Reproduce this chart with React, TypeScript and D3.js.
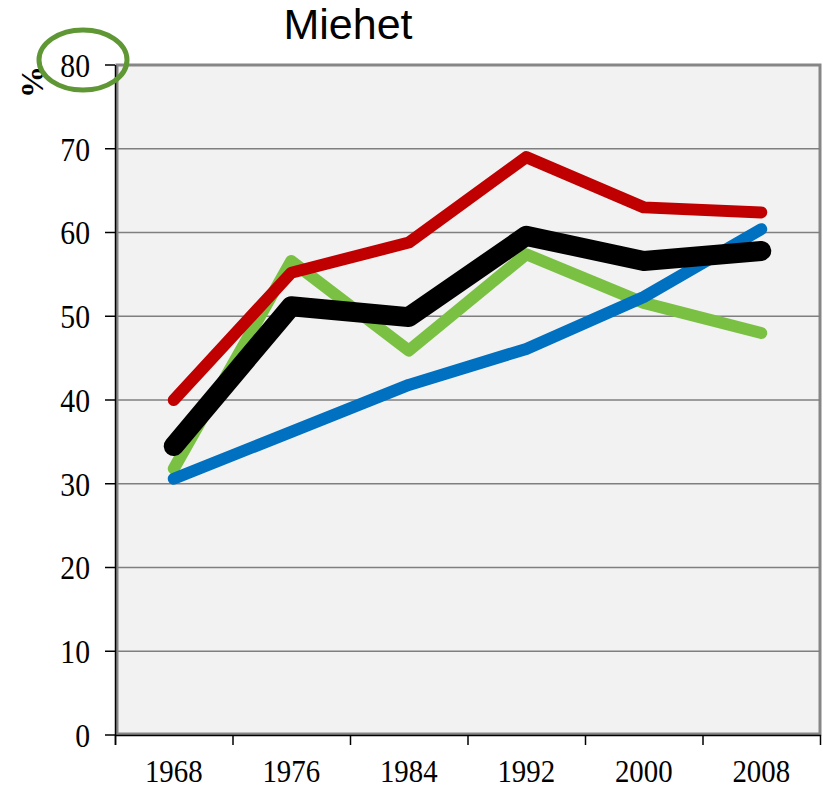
import React from "react";
import * as d3 from "d3";

const years = ["1968", "1976", "1984", "1992", "2000", "2008"];
const redValues = [40.0, 55.2, 58.8, 69.0, 63.0, 62.4];
const greenValues = [31.8, 56.6, 45.9, 57.4, 51.6, 48.0];
const blueValues = [30.6, 36.2, 41.8, 46.1, 52.3, 60.4];
const blackValues = [34.5, 51.2, 49.9, 59.6, 56.6, 57.8];
const yTicks = [0, 10, 20, 30, 40, 50, 60, 70, 80];

const series = [
  { name: "green", values: greenValues, color: "#7ac143", width: 12 },
  { name: "red", values: redValues, color: "#c00000", width: 12 },
  { name: "blue", values: blueValues, color: "#0070c0", width: 12 },
  { name: "black", values: blackValues, color: "#000000", width: 20 },
];

const SERIF = "'Liberation Serif', 'Times New Roman', serif";
const SANS = "'Liberation Sans', Arial, sans-serif";

export default function App() {
  const W = 823;
  const H = 789;
  const left = 115;
  const right = 820;
  const top = 65;
  const bottom = 735;

  const x = d3.scaleBand<string>().domain(years).range([left, right]).padding(0);
  const y = d3.scaleLinear().domain([0, 80]).range([bottom, top]);
  const line = d3
    .line<number>()
    .x((_, i) => (x(years[i]) as number) + x.bandwidth() / 2)
    .y((d) => y(d));

  const boundaries = years.map((yr) => x(yr) as number).concat([right]);

  return (
    <svg
      width={W}
      height={H}
      style={{ position: "absolute", left: 0, top: 0 }}
    >
      <rect x={0} y={0} width={W} height={H} fill="#ffffff" />
      <text
        x={348}
        y={39}
        textAnchor="middle"
        fontFamily={SANS}
        fontSize={43}
        fill="#000"
      >
        Miehet
      </text>
      {/* plot area */}
      <rect
        x={left + 2}
        y={top}
        width={right - left - 2}
        height={bottom - top - 1}
        fill="#f2f2f2"
        stroke="#868686"
        strokeWidth={3}
      />
      {/* gridlines */}
      {yTicks
        .filter((t) => t !== 0 && t !== 80)
        .map((t) => (
          <line
            key={"g" + t}
            x1={left}
            x2={right}
            y1={y(t)}
            y2={y(t)}
            stroke="#7f7f7f"
            strokeWidth={1.5}
          />
        ))}
      {/* y axis */}
      <line x1={left + 0.5} x2={left + 0.5} y1={top} y2={bottom + 10} stroke="#000" strokeWidth={1.5} />
      {yTicks.map((t) => (
        <g key={"yt" + t}>
          <line x1={left - 10} x2={left} y1={y(t)} y2={y(t)} stroke="#000" strokeWidth={1.5} />
          <text
            transform={`translate(90,${y(t)}) scale(0.9,1)`}
            dy="0.36em"
            textAnchor="end"
            fontFamily={SERIF}
            fontSize={33}
            fill="#000"
          >
            {t}
          </text>
        </g>
      ))}
      {/* x axis */}
      <line x1={left} x2={right + 1} y1={bottom + 0.5} y2={bottom + 0.5} stroke="#000" strokeWidth={1.5} />
      {boundaries.map((bx, i) => (
        <line key={"xt" + i} x1={bx + 0.5} x2={bx + 0.5} y1={bottom} y2={bottom + 10} stroke="#000" strokeWidth={1.5} />
      ))}
      {years.map((yr) => (
        <text
          key={"xl" + yr}
          transform={`translate(${(x(yr) as number) + x.bandwidth() / 2},782) scale(0.9,1)`}
          textAnchor="middle"
          fontFamily={SERIF}
          fontSize={32}
          fill="#000"
        >
          {yr}
        </text>
      ))}
      {/* series */}
      {series.map((s) => (
        <path
          key={s.name}
          d={line(s.values) || ""}
          fill="none"
          stroke={s.color}
          strokeWidth={s.width}
          strokeLinecap="round"
          strokeLinejoin="round"
        />
      ))}
      {/* % label */}
      <text
        transform="translate(43,82) rotate(-90)"
        textAnchor="middle"
        fontFamily={SERIF}
        fontWeight="bold"
        fontSize={32}
        fill="#000"
      >
        %
      </text>
      {/* highlight ellipse */}
      <ellipse cx={83} cy={60} rx={44} ry={30} fill="none" stroke="#5f9735" strokeWidth={5} />
    </svg>
  );
}
